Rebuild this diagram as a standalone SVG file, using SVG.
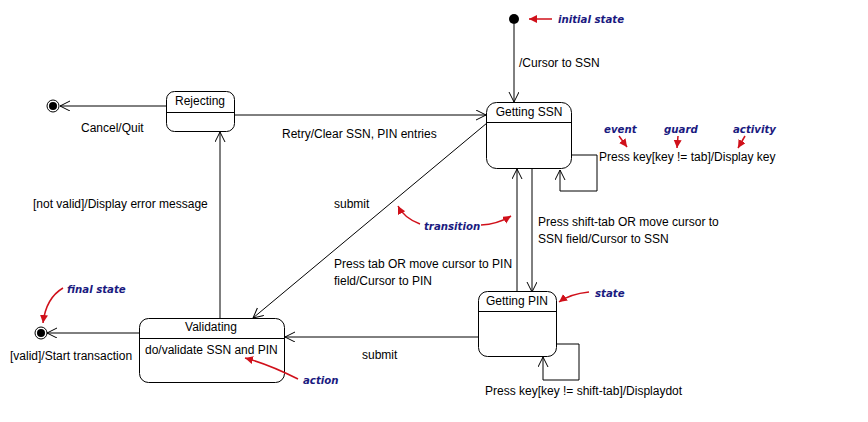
<svg xmlns="http://www.w3.org/2000/svg" width="868" height="422" viewBox="0 0 868 422">
<defs>
<style>
.st{fill:#fff;stroke:#000;stroke-width:1}
.ln{fill:none;stroke:#000;stroke-width:1}
.t{font-family:"Liberation Sans",Arial,sans-serif;font-size:12px;fill:#000}
.c{text-anchor:middle}
.a{font-family:"DejaVu Sans",Verdana,sans-serif;font-size:10.2px;font-weight:bold;font-style:italic;fill:#1a1a80}
.r{fill:none;stroke:#d0101a;stroke-width:1.5}
</style>
<marker id="open" markerWidth="12" markerHeight="12" refX="10" refY="5" orient="auto" markerUnits="userSpaceOnUse">
<path d="M0,0 L10,5 L0,10" fill="none" stroke="#000" stroke-width="1"/>
</marker>
<marker id="red" markerWidth="10" markerHeight="10" refX="8" refY="4" orient="auto" markerUnits="userSpaceOnUse">
<path d="M0,0 L8,4 L0,8 Z" fill="#d0101a"/>
</marker>
</defs>
<rect width="868" height="422" fill="#fff"/>

<g id="connectors">
<line class="ln" x1="514" y1="24" x2="514" y2="102" marker-end="url(#open)"/>
<line class="ln" x1="166" y1="106" x2="60" y2="106" marker-end="url(#open)"/>
<line class="ln" x1="235" y1="115" x2="486" y2="115" marker-end="url(#open)"/>
<line class="ln" x1="220" y1="318" x2="220" y2="132" marker-end="url(#open)"/>
<line class="ln" x1="487" y1="123" x2="253" y2="318" marker-end="url(#open)"/>
<line class="ln" x1="139" y1="333" x2="47" y2="333" marker-end="url(#open)"/>
<line class="ln" x1="517" y1="292" x2="517" y2="169" marker-end="url(#open)"/>
<line class="ln" x1="532" y1="169" x2="532" y2="292" marker-end="url(#open)"/>
<polyline class="ln" points="572,155 597,155 597,191 560,191 560,170" marker-end="url(#open)"/>
<polyline class="ln" points="557,344 579,344 579,380 543,380 543,357" marker-end="url(#open)"/>
<line class="ln" x1="478" y1="337" x2="285" y2="337" marker-end="url(#open)"/>
<text class="t" x="519" y="67">/Cursor to SSN</text>
<text class="t" x="81" y="132">Cancel/Quit</text>
<text class="t" x="282" y="138">Retry/Clear SSN, PIN entries</text>
<text class="t" x="33" y="208">[not valid]/Display error message</text>
<text class="t" x="334" y="208">submit</text>
<text class="t" x="334" y="268">Press tab OR move cursor to PIN</text>
<text class="t" x="334" y="285">field/Cursor to PIN</text>
<text class="t" x="599" y="161">Press key[key != tab]/Display key</text>
<text class="t" x="538" y="226">Press shift-tab OR move cursor to</text>
<text class="t" x="538" y="243">SSN field/Cursor to SSN</text>
<text class="t" x="10" y="360">[valid]/Start transaction</text>
<text class="t" x="362" y="359">submit</text>
<text class="t" x="485" y="395">Press key[key != shift-tab]/Displaydot</text>
</g>

<g id="initial">
<circle cx="514" cy="19" r="5" fill="#000"/>
</g>
<g id="final-top">
<circle cx="53" cy="106" r="6" fill="#fff" stroke="#000"/>
<circle cx="53" cy="106" r="4" fill="#000"/>
</g>
<g id="final-bottom">
<circle cx="41" cy="333" r="6" fill="#fff" stroke="#000"/>
<circle cx="41" cy="333" r="4" fill="#000"/>
</g>

<g id="rejecting">
<rect class="st" x="166.5" y="91.5" width="68" height="40" rx="8"/>
<line class="ln" x1="166.5" y1="112.5" x2="234.5" y2="112.5"/>
<text class="t c" x="200" y="105">Rejecting</text>
</g>
<g id="getting-ssn">
<rect class="st" x="486.5" y="102.5" width="85" height="66" rx="10"/>
<line class="ln" x1="486.5" y1="122.5" x2="571.5" y2="122.5"/>
<text class="t c" x="529" y="116">Getting SSN</text>
</g>
<g id="getting-pin">
<rect class="st" x="478.5" y="291.5" width="78" height="65" rx="9"/>
<line class="ln" x1="478.5" y1="311.5" x2="556.5" y2="311.5"/>
<text class="t c" x="517" y="305">Getting PIN</text>
</g>
<g id="validating">
<rect class="st" x="139.5" y="318.5" width="145" height="64" rx="9"/>
<line class="ln" x1="139.5" y1="338.5" x2="284.5" y2="338.5"/>
<text class="t c" x="211" y="331">Validating</text>
<text class="t" x="145" y="354">do/validate SSN and PIN</text>
</g>

<g id="annotations">
<text class="a" x="558" y="23">initial state</text>
<line class="r" x1="552" y1="19" x2="529" y2="19" marker-end="url(#red)"/>
<text class="a" x="604" y="133">event</text>
<path class="r" d="M619,136 L627,147" marker-end="url(#red)"/>
<text class="a" x="664" y="133">guard</text>
<path class="r" d="M678,136 L677,148" marker-end="url(#red)"/>
<text class="a" x="733" y="133">activity</text>
<path class="r" d="M745,136 L738,148" marker-end="url(#red)"/>
<text class="a" x="424" y="230">transition</text>
<path class="r" d="M420,224 Q404,218 398,206" marker-end="url(#red)"/>
<path class="r" d="M481,225 Q498,224 511,216" marker-end="url(#red)"/>
<text class="a" x="595" y="297">state</text>
<path class="r" d="M589,292 Q570,294 559,302" marker-end="url(#red)"/>
<text class="a" x="67" y="293">final state</text>
<path class="r" d="M63,288 Q46,298 43,323" marker-end="url(#red)"/>
<text class="a" x="303" y="384">action</text>
<path class="r" d="M298,379 Q268,364 245,358" marker-end="url(#red)"/>
</g>
</svg>
